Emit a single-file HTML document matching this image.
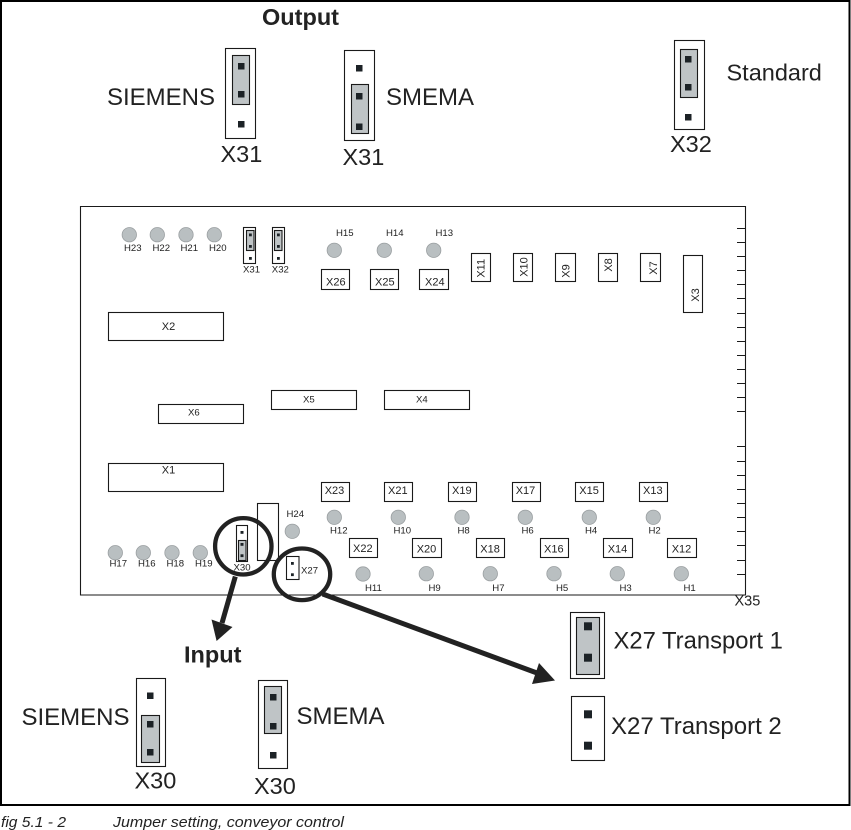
<!DOCTYPE html>
<html><head><meta charset="utf-8"><title>Jumper setting</title>
<style>
html,body{margin:0;padding:0;background:#fff}
svg{display:block}
text{font-family:"Liberation Sans",Arial,sans-serif;fill:#222}
.l{font-size:23.5px}
.w{font-size:24px}
.h{font-size:9.6px}
.x{font-size:11px}
.b{font-weight:bold}
.r{fill:#fff;stroke:#1a1a1a;stroke-width:1.1}
.g{fill:#bfc4c6;stroke:#1a1a1a;stroke-width:1.1}
.c{fill:#b9bfc1;stroke:#9a9fa1;stroke-width:.8}
.p{fill:#1c2226}
.t{stroke:#1a1a1a;stroke-width:1.1;fill:none}
</style></head><body>
<svg width="851" height="830" viewBox="0 0 851 830" xmlns="http://www.w3.org/2000/svg">
<rect width="851" height="830" fill="#fff"/>
<!-- outer frame -->
<path d="M0 1H849.5V805H1V0" fill="none" stroke="#000" stroke-width="2"/>

<!-- top jumpers -->
<text class="l b" x="262" y="25">Output</text>
<rect class="r" x="225.5" y="48.5" width="30" height="90"/>
<rect class="g" x="232.5" y="55.5" width="17" height="49"/>
<rect class="p" x="238" y="63" width="6.5" height="6.5"/><rect class="p" x="238" y="91" width="6.5" height="6.5"/><rect class="p" x="238" y="121" width="6.5" height="6.5"/>
<text class="w" x="107" y="105">SIEMENS</text>
<text class="l" x="220.5" y="162">X31</text>

<rect class="r" x="344.5" y="50.5" width="30" height="90"/>
<rect class="g" x="351.5" y="84.5" width="17" height="49"/>
<rect class="p" x="356" y="65" width="6.5" height="6.5"/><rect class="p" x="356" y="93" width="6.5" height="6.5"/><rect class="p" x="356" y="123.5" width="6.5" height="6.5"/>
<text class="w" x="386" y="105">SMEMA</text>
<text class="l" x="342.5" y="165">X31</text>

<rect class="r" x="674.5" y="40.5" width="30" height="89"/>
<rect class="g" x="680.5" y="49.5" width="17" height="48"/>
<rect class="p" x="685" y="56" width="6.5" height="6.5"/><rect class="p" x="685" y="84" width="6.5" height="6.5"/><rect class="p" x="685" y="114" width="6.5" height="6.5"/>
<text class="l" x="726.5" y="80.5">Standard</text>
<text class="l" x="670" y="152">X32</text>

<!-- board -->
<path class="t" d="M80.5 206.5H745.5V595H80.5Z"/>
<path class="t" d="M737 228.5h9M737 242.5h9M737 256.5h9M737 270.5h9M737 284.5h9M737 298.5h9M737 313.5h9M737 327.5h9M737 341.5h9M737 355.5h9M737 369.5h9M737 383.5h9M737 397.5h9M737 411.5h9M737 446.5h9M737 461.5h9M737 475.5h9M737 489.5h9M737 503.5h9M737 517.5h9M737 531.5h9M737 545.5h9M737 560.5h9M737 574.5h9"/>
<text x="734.5" y="605.5" style="font-size:14.5px">X35</text>

<!-- holes -->
<circle class="c" cx="129.3" cy="234.7" r="7.2"/><circle class="c" cx="157.3" cy="234.7" r="7.2"/><circle class="c" cx="186" cy="234.7" r="7.2"/><circle class="c" cx="214.3" cy="234.7" r="7.2"/>
<text class="h" x="124" y="251">H23</text><text class="h" x="152.5" y="251">H22</text><text class="h" x="180.5" y="251">H21</text><text class="h" x="209" y="251">H20</text>
<circle class="c" cx="334.3" cy="250.3" r="7.2"/><circle class="c" cx="384.3" cy="250.3" r="7.2"/><circle class="c" cx="433.7" cy="250.3" r="7.2"/>
<text class="h" x="336" y="236">H15</text><text class="h" x="386" y="236">H14</text><text class="h" x="435.5" y="236">H13</text>

<circle class="c" cx="115.3" cy="552.7" r="7.2"/><circle class="c" cx="143.3" cy="552.7" r="7.2"/><circle class="c" cx="172" cy="552.7" r="7.2"/><circle class="c" cx="200.3" cy="552.7" r="7.2"/>
<text class="h" x="109.5" y="566.3">H17</text><text class="h" x="138" y="566.3">H16</text><text class="h" x="166.5" y="566.3">H18</text><text class="h" x="195" y="566.3">H19</text>

<circle class="c" cx="292.3" cy="531.3" r="7.2"/><text class="h" x="286.5" y="517">H24</text>
<circle class="c" cx="334.3" cy="517.3" r="7.2"/><text class="h" x="330" y="533.7">H12</text>
<circle class="c" cx="398.3" cy="517.3" r="7.2"/><text class="h" x="393.5" y="533.7">H10</text>
<circle class="c" cx="462" cy="517.3" r="7.2"/><text class="h" x="457.5" y="533.7">H8</text>
<circle class="c" cx="525.3" cy="517.3" r="7.2"/><text class="h" x="521.5" y="533.7">H6</text>
<circle class="c" cx="589.3" cy="517.3" r="7.2"/><text class="h" x="585" y="533.7">H4</text>
<circle class="c" cx="653.3" cy="517.3" r="7.2"/><text class="h" x="648.5" y="533.7">H2</text>
<circle class="c" cx="363" cy="574" r="7.2"/><text class="h" x="365" y="591">H11</text>
<circle class="c" cx="426.3" cy="573.7" r="7.2"/><text class="h" x="428.5" y="591">H9</text>
<circle class="c" cx="490.3" cy="573.7" r="7.2"/><text class="h" x="492.3" y="591">H7</text>
<circle class="c" cx="554" cy="573.7" r="7.2"/><text class="h" x="556" y="591">H5</text>
<circle class="c" cx="617.3" cy="573.7" r="7.2"/><text class="h" x="619.5" y="591">H3</text>
<circle class="c" cx="681.3" cy="573.7" r="7.2"/><text class="h" x="683.5" y="591">H1</text>

<!-- small jumpers on board -->
<rect class="r" x="243.5" y="227.5" width="12" height="36"/>
<rect class="g" x="246.5" y="230.5" width="7.5" height="20"/>
<rect class="p" x="249" y="233.5" width="2.8" height="2.8"/><rect class="p" x="249" y="245" width="2.8" height="2.8"/><rect class="p" x="249" y="257" width="2.8" height="2.8"/>
<text class="h" x="243" y="272.7">X31</text>
<rect class="r" x="272.5" y="227.5" width="12" height="36"/>
<rect class="g" x="274.5" y="230.5" width="7.5" height="20"/>
<rect class="p" x="277" y="233.5" width="2.8" height="2.8"/><rect class="p" x="277" y="245" width="2.8" height="2.8"/><rect class="p" x="277" y="257" width="2.8" height="2.8"/>
<text class="h" x="271.8" y="272.7">X32</text>

<!-- connectors -->
<rect class="r" x="321.5" y="269.5" width="28" height="20"/><text class="x" x="326" y="285.3">X26</text>
<rect class="r" x="370.5" y="269.5" width="28" height="20"/><text class="x" x="375" y="285.3">X25</text>
<rect class="r" x="419.5" y="269.5" width="29" height="20"/><text class="x" x="425" y="285.3">X24</text>

<rect class="r" x="108.5" y="312.5" width="115" height="28"/><text class="x" x="161.8" y="330">X2</text>
<rect class="r" x="271.5" y="390.5" width="85" height="19"/><text class="h" x="303" y="402.7">X5</text>
<rect class="r" x="384.5" y="390.5" width="85" height="19"/><text class="h" x="416" y="402.7">X4</text>
<rect class="r" x="158.5" y="404.5" width="85" height="19"/><text class="h" x="188" y="415.3">X6</text>
<rect class="r" x="108.5" y="463.5" width="115" height="28"/><text class="x" x="161.8" y="473.3">X1</text>
<rect class="r" x="257.5" y="503.5" width="21" height="57"/>

<rect class="r" x="471.5" y="253.5" width="19" height="28"/><text class="x" text-anchor="middle" transform="translate(484.7 268.3) rotate(-90)">X11</text>
<rect class="r" x="513.5" y="253.5" width="19" height="28"/><text class="x" text-anchor="middle" transform="translate(527.3 267) rotate(-90)">X10</text>
<rect class="r" x="555.5" y="253.5" width="20" height="28"/><text class="x" text-anchor="middle" transform="translate(569.7 271) rotate(-90)">X9</text>
<rect class="r" x="598.5" y="253.5" width="19" height="28"/><text class="x" text-anchor="middle" transform="translate(612 265) rotate(-90)">X8</text>
<rect class="r" x="640.5" y="253.5" width="20" height="28"/><text class="x" text-anchor="middle" transform="translate(657 268) rotate(-90)">X7</text>
<rect class="r" x="683.5" y="255.5" width="19" height="57"/><text class="x" text-anchor="middle" transform="translate(699 295) rotate(-90)">X3</text>

<rect class="r" x="321.5" y="482.5" width="28" height="19"/><text class="x" x="324.7" y="494">X23</text>
<rect class="r" x="384.5" y="482.5" width="28" height="19"/><text class="x" x="388" y="494">X21</text>
<rect class="r" x="448.5" y="482.5" width="28" height="19"/><text class="x" x="452" y="494">X19</text>
<rect class="r" x="512.5" y="482.5" width="28" height="19"/><text class="x" x="515.7" y="494">X17</text>
<rect class="r" x="575.5" y="482.5" width="28" height="19"/><text class="x" x="579.3" y="494">X15</text>
<rect class="r" x="639.5" y="482.5" width="28" height="19"/><text class="x" x="643" y="494">X13</text>

<rect class="r" x="349.5" y="538.5" width="28" height="19"/><text class="x" x="353" y="552">X22</text>
<rect class="r" x="412.5" y="538.5" width="29" height="19"/><text class="x" x="416.7" y="552.3">X20</text>
<rect class="r" x="476.5" y="538.5" width="28" height="19"/><text class="x" x="480.3" y="552.3">X18</text>
<rect class="r" x="540.5" y="538.5" width="28" height="19"/><text class="x" x="544" y="552.3">X16</text>
<rect class="r" x="603.5" y="538.5" width="29" height="19"/><text class="x" x="607.7" y="552.3">X14</text>
<rect class="r" x="667.5" y="538.5" width="29" height="19"/><text class="x" x="671.7" y="552.3">X12</text>

<!-- X30 / X27 on board -->
<rect class="r" x="236.5" y="525.5" width="11" height="36"/>
<rect class="g" x="238.5" y="540.5" width="7.5" height="20"/>
<rect class="p" x="240.5" y="531" width="3" height="2.8"/><rect class="p" x="240.5" y="543" width="3" height="2.8"/><rect class="p" x="240.5" y="554.3" width="3" height="2.8"/>
<text class="h" x="233.5" y="570.7">X30</text>
<rect class="r" x="286.5" y="556.5" width="12.5" height="23"/>
<rect class="p" x="291" y="562" width="2.8" height="2.8"/><rect class="p" x="291" y="573.3" width="2.8" height="2.8"/>
<text class="h" x="301" y="573.7">X27</text>

<!-- callouts -->
<circle cx="243.3" cy="546.3" r="28.2" fill="none" stroke="#222" stroke-width="4.3"/>
<ellipse cx="302" cy="574.3" rx="28.2" ry="25.8" fill="none" stroke="#222" stroke-width="4.3"/>
<line x1="235.3" y1="576.5" x2="222" y2="623" stroke="#222" stroke-width="5"/>
<polygon points="211.5,619.5 232.5,627 216.6,641" fill="#222"/>
<line x1="322.7" y1="594" x2="537" y2="673" stroke="#222" stroke-width="5"/>
<polygon points="539,663 532,684 555,680.5" fill="#222"/>

<!-- input -->
<text class="l b" x="184" y="662.7">Input</text>
<rect class="r" x="136.5" y="678.5" width="29" height="88"/>
<rect class="g" x="141.5" y="715.5" width="18" height="47"/>
<rect class="p" x="147" y="692.5" width="6.5" height="6.5"/><rect class="p" x="147" y="721" width="6.5" height="6.5"/><rect class="p" x="147" y="749" width="6.5" height="6.5"/>
<text class="w" x="21.5" y="725">SIEMENS</text>
<text class="l" x="134.5" y="788.7">X30</text>
<rect class="r" x="258.5" y="680.5" width="29" height="88"/>
<rect class="g" x="264.5" y="686.5" width="17" height="47"/>
<rect class="p" x="270" y="694" width="6.5" height="6.5"/><rect class="p" x="270" y="723" width="6.5" height="6.5"/><rect class="p" x="270" y="752" width="6.5" height="6.5"/>
<text class="w" x="296.5" y="724">SMEMA</text>
<text class="l" x="254" y="794">X30</text>

<!-- X27 detail -->
<rect class="r" x="570.5" y="612.5" width="34" height="66"/>
<rect class="g" x="576.5" y="617.5" width="23" height="57"/>
<rect class="p" x="584" y="622.3" width="8" height="8"/><rect class="p" x="584" y="653.7" width="8" height="8"/>
<text class="l" x="613.5" y="648.7" style="font-size:23.8px">X27 Transport 1</text>
<rect class="r" x="571.5" y="696.5" width="33" height="64"/>
<rect class="p" x="584" y="710.3" width="8" height="8"/><rect class="p" x="584" y="741.7" width="8" height="8"/>
<text class="l" x="611" y="734" style="font-size:24px">X27 Transport 2</text>

<!-- caption -->
<text x="1" y="827" style="font-size:15px;font-style:italic" textLength="65" lengthAdjust="spacingAndGlyphs">fig 5.1 - 2</text>
<text x="113" y="827" style="font-size:15px;font-style:italic" textLength="231" lengthAdjust="spacingAndGlyphs">Jumper setting, conveyor control</text>
</svg>
</body></html>
